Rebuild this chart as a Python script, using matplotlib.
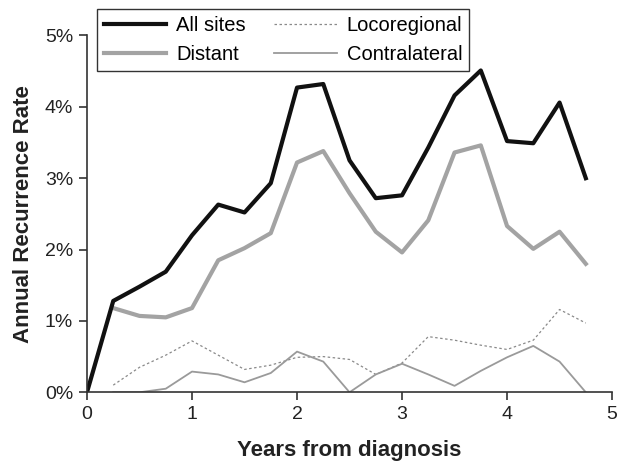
import numpy as np
import matplotlib.pyplot as plt
from matplotlib.ticker import FuncFormatter

plt.rcParams["font.family"] = ["Liberation Sans", "DejaVu Sans"]

# quarter-year grid
years = [0.25, 0.5, 0.75, 1.0, 1.25, 1.5, 1.75, 2.0, 2.25, 2.5,
         2.75, 3.0, 3.25, 3.5, 3.75, 4.0, 4.25, 4.5, 4.75]
all_years = [0.0] + years

all_sites = [0.0, 1.28, 1.48, 1.69, 2.20, 2.63, 2.52, 2.93, 4.27, 4.32, 3.25,
             2.72, 2.76, 3.43, 4.16, 4.51, 3.52, 3.49, 4.06, 3.00]
distant = [1.18, 1.07, 1.05, 1.18, 1.85, 2.02, 2.23, 3.22, 3.38, 2.79,
           2.25, 1.96, 2.41, 3.36, 3.46, 2.33, 2.01, 2.25, 1.80]
locoregional = [0.10, 0.35, 0.52, 0.72, 0.52, 0.32, 0.38, 0.49, 0.50, 0.46,
                0.25, 0.41, 0.78, 0.73, 0.66, 0.60, 0.73, 1.16, 0.97]
contralateral = [0.0, 0.0, 0.05, 0.29, 0.25, 0.14, 0.27, 0.57, 0.43, 0.0,
                 0.25, 0.40, 0.25, 0.09, 0.30, 0.49, 0.65, 0.43, 0.0]

fig = plt.figure(figsize=(6.17, 4.67), dpi=100)
ax = fig.add_axes([0.141, 0.160, 0.851, 0.764])

h_loco, = ax.plot(years, locoregional, color="#8a8a8a", lw=0.9,
                  linestyle=(0, (2, 2)), label="Locoregional")
h_contra, = ax.plot(years, contralateral, color="#9a9a9a", lw=1.3,
                    label="Contralateral")
h_dist, = ax.plot(years, distant, color="#a3a3a3", lw=3.0, label="Distant")
h_all, = ax.plot(all_years, all_sites, color="#111111", lw=3.0, label="All sites")

ax.set_xlim(0, 5)
ax.set_ylim(0, 5)
ax.set_xticks([0, 1, 2, 3, 4, 5])
ax.set_yticks([0, 1, 2, 3, 4, 5])
ax.yaxis.set_major_formatter(FuncFormatter(lambda v, p: f"{v:.0f}%"))
for s in ["top", "right"]:
    ax.spines[s].set_visible(False)
for s in ["left", "bottom"]:
    ax.spines[s].set_color("#333333")
    ax.spines[s].set_linewidth(1.2)
    ax.spines[s].set_clip_on(False)
ax.tick_params(direction="out", length=6, width=1.2, color="#333333",
               labelsize=14, labelcolor="#222222", pad=4)
ax.set_xlabel("Years from diagnosis", fontsize=16, fontweight="bold",
              color="#222222", labelpad=12)
ax.set_ylabel("Annual Recurrence Rate", fontsize=16, fontweight="bold",
              color="#222222", labelpad=8)

leg = fig.legend([h_all, h_dist, h_loco, h_contra],
                 ["All sites", "Distant", "Locoregional", "Contralateral"],
                 ncol=2, loc="upper left", bbox_to_anchor=(0.157, 0.981),
                 fontsize=14.5, frameon=True, fancybox=False, edgecolor="black",
                 handlelength=3.1, columnspacing=1.4, borderpad=0.35,
                 labelspacing=0.5, handletextpad=0.5, borderaxespad=0)
leg.get_frame().set_linewidth(1.0)

fig.savefig("out.png", dpi=100)
